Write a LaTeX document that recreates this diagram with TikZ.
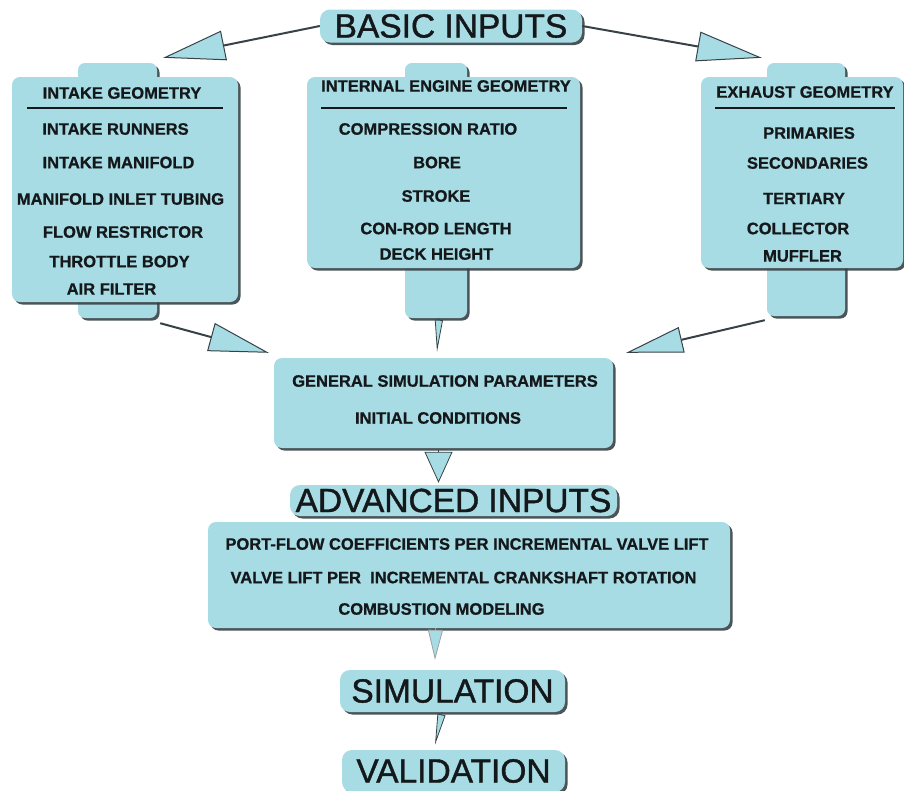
\documentclass[tikz,border=0pt]{standalone}
\usepackage{fontspec}
\setmainfont{Liberation Sans}
\usetikzlibrary{arrows.meta,shadows}
\definecolor{panelblue}{RGB}{168,220,228}
\definecolor{shadowgray}{RGB}{55,66,70}
\definecolor{inkgray}{RGB}{20,24,26}

\begin{document}
\begin{tikzpicture}
[x=1pt,y=-1pt,
 panelDecorate/.style={draw=none,fill=panelblue,rounded corners=8pt,inner sep=0pt,
   drop shadow={shadow xshift=2.5pt,shadow yshift=-2.5pt,fill=shadowgray,opacity=0.9}},
 tabDecorate/.style={panelDecorate,rounded corners=7pt},
 titleDecorate/.style={panelDecorate,rounded corners=10pt,text=inkgray,
   font=\fontsize{33.5}{36}\selectfont\addfontfeature{FakeBold=1.2}},
 itemDecorate/.style={inner sep=0pt,text=inkgray,
   font=\bfseries\fontsize{16.5}{18}\selectfont\addfontfeature{FakeBold=0.8}},
 ruleDecorate/.style={draw=inkgray,line width=2pt},
 lineDecorate/.style 2 args={draw=shadowgray,line width=2pt,
   -{Triangle[length=#1,width=#2,fill=panelblue,line width=1pt]}},
 taperDecorate/.style 2 args={draw=shadowgray,line width=0.6pt,
   -{Triangle[length=#1,width=#2,fill=panelblue,line width=0.8pt]}}]
\useasboundingbox (0,0) rectangle (904,790);
%% tabs behind the panels
\node (inTab) at (117.5,190.5) [tabDecorate,minimum width=79pt,minimum height=255pt] {};
\node (engTab) at (436,190.5) [tabDecorate,minimum width=62pt,minimum height=255pt] {};
\node (exTab) at (806,189.5) [tabDecorate,minimum width=78pt,minimum height=253pt] {};
%% panels
\node (inPanel) at (125,189.5) [panelDecorate,minimum width=226pt,minimum height=225pt] {};
\node (engPanel) at (443.5,172.5) [panelDecorate,minimum width=273pt,minimum height=191pt] {};
\node (exPanel) at (802,172.5) [panelDecorate,minimum width=202pt,minimum height=191pt] {};
\node (general) at (443.5,403) [panelDecorate,minimum width=339pt,minimum height=90pt] {};
\node (advPanel) at (469,575) [panelDecorate,minimum width=522pt,minimum height=106pt] {};
%% titles
\node (basic) at (451,26) [titleDecorate,minimum width=262pt,minimum height=33pt] {BASIC INPUTS};
\node (advanced) at (453.5,500.5) [titleDecorate,minimum width=327pt,minimum height=31pt] {ADVANCED INPUTS};
\node (simulation) at (452.5,691) [titleDecorate,minimum width=225pt,minimum height=42pt] {SIMULATION};
\node (validation) at (453.5,771) [titleDecorate,minimum width=223pt,minimum height=42pt] {VALIDATION};
%% panel texts
\foreach \nodename/\x/\y/\label in {inHead/122/93/INTAKE GEOMETRY,
  inA/115.5/129/INTAKE RUNNERS, inB/118.5/162.5/INTAKE MANIFOLD,
  inC/120.5/199/MANIFOLD INLET TUBING, inD/123/232/FLOW RESTRICTOR,
  inE/119.5/261.5/THROTTLE BODY, inF/111.5/289/AIR FILTER,
  engHead/446/86/INTERNAL ENGINE GEOMETRY,
  engA/428/129/COMPRESSION RATIO, engB/437/162.5/BORE, engC/436/196/STROKE,
  engD/436/228.5/CON-ROD LENGTH, engE/436.5/254/DECK HEIGHT,
  exHead/805/92/EXHAUST GEOMETRY,
  exA/809/133/PRIMARIES, exB/807.5/163/SECONDARIES, exC/804/198.5/TERTIARY,
  exD/798/228.5/COLLECTOR, exE/802.5/256/MUFFLER,
  genA/445/381/GENERAL SIMULATION PARAMETERS, genB/438/418/INITIAL CONDITIONS,
  advA/467/544/PORT-FLOW COEFFICIENTS PER INCREMENTAL VALVE LIFT,
  advC/441.5/609/COMBUSTION MODELING} {
  \node (\nodename) at (\x,\y) [itemDecorate] {\label};
}
\node (advB) at (463.5,577.5) [itemDecorate] {VALVE LIFT PER\ \ INCREMENTAL CRANKSHAFT ROTATION};
%% header rules
\foreach \xa/\xb in {27/223, 321/567, 715/895} {
  \draw[ruleDecorate] (\xa,108) -- (\xb,108);
}
%% arrow tips
\coordinate (inTip) at ([shift={(6,-5)}]inTab.north east);
\coordinate (exTip) at ([shift={(-5,-5)}]exTab.north west);
\coordinate (genTipL) at ([shift={(-5,-5)}]general.north west);
\coordinate (genTipR) at ([shift={(13,-5)}]general.north east);
%% connectors
\draw[lineDecorate={62pt}{30pt}] (basic.west) -- (inTip);
\draw[lineDecorate={65pt}{30pt}] (basic.east) -- (exTip);
\draw[lineDecorate={60pt}{29pt}] ([shift={(3,5)}]inTab.south east) -- (genTipL);
\draw[lineDecorate={57pt}{26pt}] ([shift={(-2,4)}]exTab.south west) -- (genTipR);
\draw[taperDecorate={32pt}{8pt}] ([xshift=3pt]engTab.south) -- ([shift={(-6.5,-6)}]general.north);
\draw[taperDecorate={31pt}{28pt}] ([shift={(-5,2)}]general.south) -- ([shift={(-15,-2)}]advanced.north);
\draw[taperDecorate={30pt}{15pt},draw=shadowgray!50] ([xshift=-33.5pt]advPanel.south) -- ([shift={(-17.5,-10)}]simulation.north);
\draw[taperDecorate={31pt}{8pt}] ([xshift=-10.5pt]simulation.south) -- ([shift={(-18.5,-5)}]validation.north);
\end{tikzpicture}
\end{document}
